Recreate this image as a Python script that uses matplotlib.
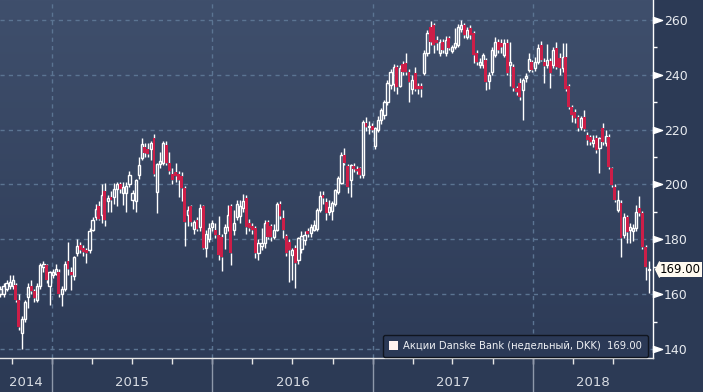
# weekly candlestick chart, Danske Bank shares
import matplotlib
matplotlib.use('Agg')
import matplotlib.pyplot as plt
import matplotlib.dates as mdates
import matplotlib.transforms as mtrans
from matplotlib.colors import LinearSegmentedColormap
from matplotlib.patches import Patch
from matplotlib.path import Path
import numpy as np
import pandas as pd

first_week = '2014-09-05'
x_start, x_end = '2014-09-04', '2018-10-01'

opens = [160, 160, 162, 163, 163, 163.5, 158, 146, 151, 159, 163, 161, 158, 163, 170, 170.5, 163, 167, 167.5, 168,
         160, 162, 172, 168, 166.5, 175, 178, 177, 176, 176, 183.5, 188, 192, 189, 197.5, 194, 195.5, 195.5, 198.5, 200,
         197, 197, 200, 194.5, 194, 203.5, 209.7, 213.7, 213, 213, 217, 197.3, 207.5, 208, 214.5, 208, 204, 204.5, 204, 203,
         198.7, 188.8, 192, 183.7, 187, 184.5, 192, 177, 180, 184.5, 183.5, 181.6, 181, 182.3, 184.5, 192, 183.4, 188.3, 188.5, 191.5,
         195, 186, 185, 184, 175, 177.5, 178.7, 186.3, 185, 181, 183.4, 193, 187.8, 181.2, 179, 174.3, 177, 172.5, 176.4, 179.8,
         183, 182.4, 183.5, 183.7, 190.7, 196, 193.6, 190.1, 190.5, 193, 197.3, 200.5, 210.8, 206.7, 201.6, 206.8, 205.8, 205.9, 203.3, 222.5,
         220.8, 221.5, 214, 219.8, 223.5, 225.4, 230, 236.3, 236.5, 242.8, 236, 244, 244.2, 241.2, 234.7, 240.6, 236, 236, 240.6, 248.1,
         257.6, 258, 252.7, 248.1, 252.1, 248.1, 253.3, 248.8, 250.3, 250.9, 256.6, 258.2, 253.9, 257, 255.4, 247.9, 243.6, 243.6, 245.4, 237.9,
         241.1, 247.2, 252.1, 251.5, 247.2, 251.5, 243.6, 243, 235.1, 237, 234.5, 238.8, 241.8, 244.5, 242.4, 244.8, 250.9, 244.8, 243.6, 245.2,
         243.6, 249.7, 246, 242.4, 246.6, 235.9, 228.4, 226.6, 224.8, 221.1, 224.5, 217.9, 217.4, 215, 216.8, 213.2, 220.5, 215, 217.2, 205.9,
         199.2, 190.7, 193.4, 181.6, 188, 183.4, 183, 184, 191.3, 189.5, 177.3, 168.8]
highs = [163, 164, 165, 167, 167, 164, 160, 152, 158, 164, 165, 162, 164, 171.5, 172, 171, 168.5, 169, 171, 169,
         163, 172, 179, 170, 174, 180, 179, 178, 177, 184, 188, 193, 194, 200, 200.5, 196, 197.5, 200.5, 201, 201,
         201, 201, 205, 198, 202, 210, 217, 215, 215, 216, 218.5, 208, 212, 216, 216, 212, 206, 208, 205, 204.5,
         199.5, 192, 192.5, 187, 188, 193, 192.5, 183.5, 186, 187, 186, 188.5, 182, 185.5, 192.5, 193, 190.7, 194.5, 194.5, 196.5,
         196, 187.5, 186, 185, 180, 184, 187, 187, 185.5, 185.5, 193.5, 194, 190.7, 182, 180, 177, 178, 181, 183, 183,
         184, 185.5, 187, 191.5, 197.7, 197.7, 195, 194.3, 194, 198.5, 203, 212, 213.3, 207.5, 207.5, 208, 206.7, 206.5, 223.5, 224.6,
         223, 222.5, 221, 225, 228, 231, 238, 242, 244, 243.5, 243.5, 245, 248, 242, 240, 243, 237, 237, 249, 256.4,
         259.6, 259, 254, 253, 253, 254, 254, 251, 257, 258.5, 260, 259, 257.5, 258, 256, 249, 246, 248, 246, 241,
         250, 253.9, 253, 253, 253, 253, 252, 244, 236, 238.7, 239, 240.5, 247.9, 245.5, 246.6, 251.2, 252.3, 246, 251.2, 246,
         250, 252.1, 248, 251.5, 251.5, 236.5, 229, 227.5, 225.5, 225, 227.2, 219, 218, 218, 218, 217.5, 222.3, 220, 218.5, 206.5,
         200, 198, 194.5, 189.5, 189, 186, 185.5, 192.5, 195.8, 190.5, 178, 172]
lows = [159, 159, 161, 162, 162, 157, 147, 140, 150, 155, 160, 157, 157, 162, 168, 164, 156, 166, 167, 159,
        155.5, 161, 167, 161.5, 165, 174, 175, 174, 171.5, 175, 183, 187, 187, 186, 185, 190, 190, 193, 192, 197,
        192.5, 190, 199, 191, 190, 202, 209, 210, 210, 209, 203, 189.6, 206, 207, 207, 204, 200, 201, 195.4, 194,
        177.6, 185, 185, 182, 183, 183, 176.5, 173.5, 179, 183, 180.5, 172.5, 168.6, 176.5, 183, 170.6, 181.6, 187, 186, 190,
        182, 183, 182, 173, 172.5, 176, 177, 180, 179.5, 180, 183, 187.5, 180.5, 174, 164.4, 165.2, 162.3, 171, 175, 178,
        181, 181, 183, 183, 190, 193, 187, 189, 187, 192, 196.5, 200, 207, 197, 195.6, 204.5, 204, 202.5, 202.5, 219.5,
        218.5, 219, 213, 219, 222, 224, 229, 235, 234, 233, 235.5, 240, 240, 230.2, 233, 234, 233, 231.8, 240, 247,
        251, 247.9, 249, 247, 248, 247, 249, 248, 249.5, 250, 255.5, 253.5, 253, 253, 244.4, 243.5, 242.5, 242.5, 234.5, 235,
        240, 246.5, 248, 248, 246.5, 240, 236, 234, 232.6, 231, 223.5, 237.5, 241, 241, 241.5, 244, 245, 236.9, 242.5, 235.1,
        242.5, 242, 240, 241, 234, 227.5, 222.9, 222.5, 219.5, 220, 219.5, 214.4, 214.5, 213.5, 211.5, 204.3, 214.5, 214, 205.5, 199,
        193.5, 190, 173.7, 180.5, 178.6, 178.6, 179.5, 183, 188.5, 176.5, 165, 160.3]
closes = [162, 163, 164, 164.5, 165, 158, 148, 151, 157, 162.5, 161, 158.5, 163, 170.5, 171, 165, 168, 168, 169, 160,
          162, 171, 169, 167, 173.5, 177.5, 176, 175.5, 175, 183, 187, 191, 187.5, 196, 187, 195, 194.5, 198.5, 200, 198.5,
          199, 199.5, 203.5, 197, 201.5, 207, 214.8, 211.5, 211, 215, 204, 207.5, 208.5, 215, 208, 205, 201.6, 203, 201.5, 198.7,
          186.3, 190.7, 186.3, 186.3, 183.7, 191.4, 177, 182, 184, 186, 181.6, 174.3, 173.6, 184.5, 189, 175, 186, 193, 192, 194,
          184.5, 184, 183.5, 175, 178.7, 178.5, 186, 181, 181, 183.4, 193, 188.5, 183.4, 175, 176, 176, 171.4, 180.5, 181.2, 181.6,
          182, 184.5, 185.2, 190.7, 195.8, 195, 189.6, 191.9, 193.4, 198, 202.4, 210.8, 207.8, 199.1, 207, 205.8, 204.9, 203.5, 222.8, 221,
          221.5, 220, 220.6, 223.5, 227, 230, 237, 241, 242.8, 235.6, 242.5, 241.2, 241.2, 237.5, 238.1, 235, 234.7, 235, 248.1, 255.4,
          252.1, 251, 251.5, 252.1, 249.2, 252.7, 249.7, 250, 251.5, 257.6, 258.2, 254.5, 256.4, 254.5, 247.2, 244.8, 244.8, 247.2, 237.5, 240.1,
          249, 252.1, 249, 250.3, 251.5, 240.6, 244.8, 235.1, 233.9, 232, 238.1, 239.6, 245.7, 241.8, 244.5, 249.7, 245.4, 243.2, 245.4, 240.8,
          249.1, 243, 242.5, 246.6, 234.7, 228.2, 225.4, 224.1, 220.5, 224.1, 220.1, 216.2, 215.6, 216.2, 212.6, 216.8, 215.6, 217.7, 206.5, 199.8,
          194.3, 194.3, 180.4, 188.3, 182.8, 184.6, 184, 190.1, 189.5, 177.3, 170, 169]

last_price = 169.00
series_label = 'Акции Danske Bank (недельный, DKK)'
price_ticks = [140, 160, 180, 200, 220, 240, 260]
minor_ticks = [150, 170, 190, 210, 230, 250]
years = [2014, 2015, 2016, 2017, 2018]

bg_top, bg_bottom = '#3f4f6c', '#2d3b57'
grid_col = '#5b7492'
red = '#cc1e48'

dates = pd.date_range(first_week, periods=len(closes), freq='7D')
x = mdates.date2num(dates)
o = np.array(opens)
h = np.array(highs)
l = np.array(lows)
c = np.array(closes)
top = np.maximum(o, c)
bot = np.minimum(o, c)
up = c >= o

fig = plt.figure(figsize=(7.03, 3.92), dpi=100)
fig.patch.set_facecolor('#2c3a55')
ax = fig.add_axes([0, 34 / 392, 653 / 703, 358 / 392])

# background gradient
cmap = LinearSegmentedColormap.from_list('bg', [bg_bottom, bg_top])
ax.imshow(np.linspace(0, 1, 256).reshape(-1, 1), extent=[0, 1, 0, 1], transform=ax.transAxes,
          cmap=cmap, aspect='auto', origin='lower', zorder=0)

xmin = mdates.date2num(pd.Timestamp(x_start))
xmax = mdates.date2num(pd.Timestamp(x_end))
ax.set_xlim(xmin, xmax)
ax.set_ylim(136.7, 267.3)

# grid
for v in price_ticks:
    ax.axhline(v, color=grid_col, lw=1, ls=(0, (3, 3)), zorder=1)
year_starts = [mdates.date2num(pd.Timestamp(f'{y}-01-01')) for y in years[1:]]
for xs in year_starts:
    ax.axvline(xs, color=grid_col, lw=1, ls=(0, (3, 3)), zorder=1)

# candles
ax.vlines(x, top, h, color='white', lw=1.0, zorder=2)
ax.vlines(x, l, bot, color='white', lw=1.0, zorder=2)
hgt = np.maximum(top - bot, 0.5)
ax.bar(x[up], hgt[up], bottom=bot[up], width=5.0, facecolor='none', edgecolor='white', lw=1.0, zorder=3)
ax.bar(x[~up], hgt[~up], bottom=bot[~up], width=6.6, color=red, lw=0, zorder=3)

# axes decoration
for s in ['left', 'top']:
    ax.spines[s].set_visible(False)
ax.spines['right'].set_color('white')
ax.spines['bottom'].set_color('#e6e6e6')
ax.spines['right'].set_linewidth(1)
ax.spines['bottom'].set_linewidth(1)

ax.yaxis.tick_right()
ax.set_yticks(price_ticks)
ax.set_yticks(minor_ticks, minor=True)
ax.tick_params(axis='y', which='major', length=0, pad=8, labelsize=9, labelcolor='#e8ebf0')
ax.tick_params(axis='y', which='minor', length=3, width=1, color='white')

quarters = pd.date_range('2014-10-01', '2018-07-01', freq='QS')
ax.set_xticks(mdates.date2num(quarters))
ax.tick_params(axis='x', length=4, width=1, color='#e6e6e6', labelbottom=False)

ytrans = mtrans.blended_transform_factory(ax.transAxes, ax.transData)
tri = Path([(0, -0.55), (1.6, 0), (0, 0.55), (0, -0.55)], [1, 2, 2, 79])
ax.plot([1] * len(price_ticks), price_ticks, transform=ytrans, ls='none', marker=tri,
        ms=13, color='white', clip_on=False, zorder=5)

# year labels and separators
xtrans = mtrans.blended_transform_factory(ax.transData, ax.transAxes)
for xs in year_starts:
    ax.plot([xs, xs], [0, -34 / 358], transform=xtrans, color='#8e98aa', lw=1, clip_on=False)
for y in years:
    a = max(mdates.date2num(pd.Timestamp(f'{y}-01-01')), xmin)
    b = min(mdates.date2num(pd.Timestamp(f'{y + 1}-01-01')), xmax)
    ax.text((a + b) / 2, -25 / 358, str(y), transform=xtrans, ha='center', va='center',
            fontsize=9.5, color='#d9dde4')

# last price tag
tag_trans = mtrans.offset_copy(ytrans, fig=fig, x=7, y=0, units='dots')
ax.text(1, last_price, f'{last_price:.2f}', transform=tag_trans, ha='left', va='center',
        fontsize=8.5, color='black', zorder=6,
        bbox=dict(boxstyle='square,pad=0.12', fc='#fffaf0', ec='none'))
arrow = Path([(0, -1), (-0.5, 0), (0, 1), (0, -1)], [1, 2, 2, 79])
arrow_trans = mtrans.offset_copy(ytrans, fig=fig, x=6, y=0, units='dots')
ax.plot([1], [last_price], transform=arrow_trans, ls='none', marker=arrow, ms=11,
        color='#fffaf0', clip_on=False, zorder=6)

# legend
leg = ax.legend(handles=[Patch(facecolor='#fff3f0', edgecolor='none')],
                labels=[f'{series_label}  {last_price:.2f}'],
                loc='lower right', bbox_to_anchor=(648 / 653, 1 / 358), borderaxespad=0,
                fontsize=7.2, labelcolor='#eef0f4', facecolor='#2b3956', edgecolor='#10151f',
                framealpha=1, fancybox=True, handlelength=0.9, handleheight=0.9,
                handletextpad=0.5, borderpad=0.6)
leg.get_frame().set_linewidth(1)
leg.set_zorder(7)

fig.savefig('out.png', dpi=100, facecolor=fig.get_facecolor())
